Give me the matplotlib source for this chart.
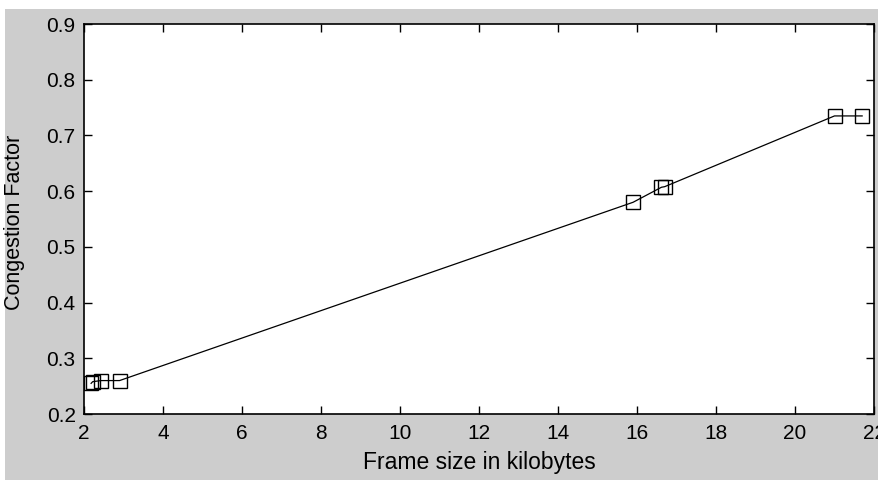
import matplotlib
matplotlib.use("Agg")
import matplotlib.pyplot as plt
from matplotlib.patches import Rectangle

frame_kb = [2.18, 2.22, 2.43, 2.90, 15.90, 16.62, 16.70, 21.00, 21.70]
congestion = [0.255, 0.258, 0.260, 0.260, 0.580, 0.607, 0.608, 0.735, 0.735]
xticks = [2, 4, 6, 8, 10, 12, 14, 16, 18, 20, 22]
yticks = [0.2, 0.3, 0.4, 0.5, 0.6, 0.7, 0.8, 0.9]

plt.rcParams['font.family'] = ['Liberation Sans', 'DejaVu Sans']

W, H = 879, 480
fig = plt.figure(figsize=(W/100, H/100), dpi=100, facecolor='white')
fig.patches.append(Rectangle((5/W, 0), 1, 1 - 9/H, transform=fig.transFigure,
                             facecolor='#cdcdcd', edgecolor='none', zorder=-10))
ax = fig.add_axes([84/W, 1-414/H, (874-84)/W, (414-24)/H])
ax.set_facecolor('white')
ax.plot(frame_kb, congestion, color='black', lw=0.9, marker='s', markersize=10.5,
        markerfacecolor='none', markeredgecolor='black', markeredgewidth=1.0)
ax.set_xlim(2, 22)
ax.set_ylim(0.2, 0.9)
ax.set_xticks(xticks)
ax.set_yticks(yticks)
ax.set_xticklabels([str(v) for v in xticks])
ax.set_yticklabels([f"{v:.1f}" for v in yticks])
ax.tick_params(direction='in', length=6, width=1, top=True, right=True,
               labelsize=15, colors='black')
ax.tick_params(axis='x', pad=7)
ax.tick_params(axis='y', pad=6)
for s in ax.spines.values():
    s.set_linewidth(1.2)
ax.set_xlabel('Frame size in kilobytes', fontsize=16.5)
ax.set_ylabel('Congestion Factor', fontsize=15.5)
ax.xaxis.set_label_coords(0.5, (414 - 463) / 390)
ax.xaxis.label.set_va('center')
ax.yaxis.set_label_coords((14 - 84) / 790, (414 - 222) / 390)
ax.yaxis.label.set_va('center')
fig.savefig('out.png', dpi=100, facecolor=fig.get_facecolor())
